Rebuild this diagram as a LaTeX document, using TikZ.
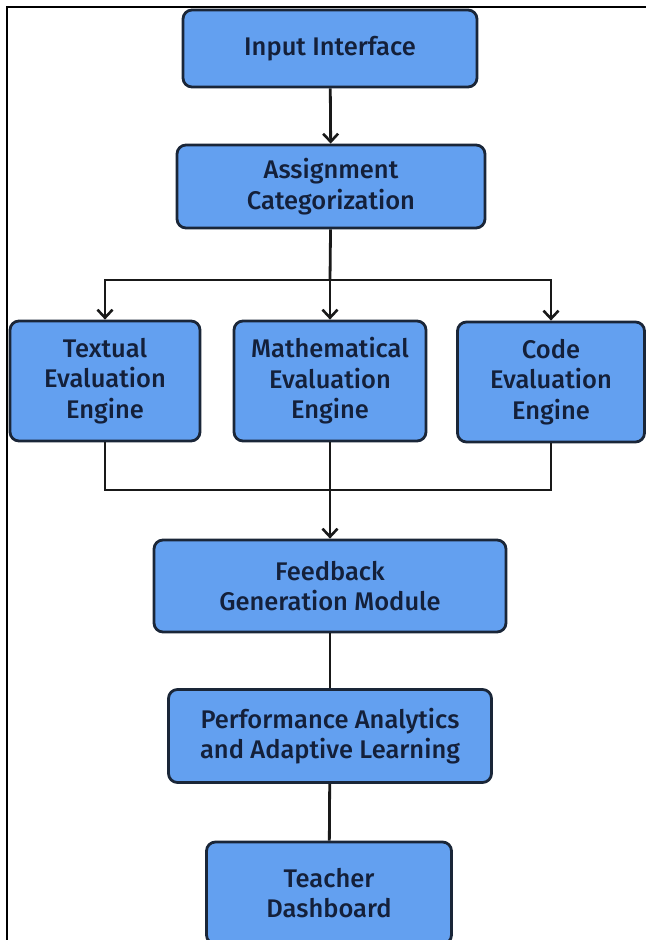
\documentclass[tikz,border=0pt]{standalone}
\usepackage{fontspec}
\setmainfont{Fira Sans}[BoldFont={Fira Sans Medium}]
\usetikzlibrary{arrows.meta}

\definecolor{boxfill}{RGB}{99,160,240}
\definecolor{boxline}{RGB}{26,38,56}
\definecolor{boxtext}{RGB}{20,32,58}

\tikzset{
    box/.style={draw=boxline, fill=boxfill, line width=2.8pt, rounded corners=9pt,
        align=center, text=boxtext, font=\bfseries\fontsize{25.5}{30.5}\selectfont,
        inner sep=0pt},
    arr/.style={-{Straight Barb[length=8pt, width=15pt, line width=2.6pt]}},
    link/.style={line width=2.8pt, black!90}
}

\begin{document}
\begin{tikzpicture}[x=1pt, y=-1pt]

    % Page
    \clip (0,0) rectangle (646,940);
    \fill[white] (0,0) rectangle (646,940);

    % Frame
    \draw[line width=2pt] (7,940) -- (7,7) -- (646,7);

    % Boxes
    \node[box, minimum width=294pt, minimum height=77pt] (input) at (330,48.5) {Input Interface};
    \node[box, minimum width=308pt, minimum height=83pt] (assign) at (331,186.5) {Assignment\\Categorization};

    \node[box, minimum width=190pt, minimum height=120pt] (textual) at (105,381) {Textual\\Evaluation\\Engine};
    \node[box, minimum width=192pt, minimum height=120pt] (math) at (330,381) {Mathematical\\Evaluation\\Engine};
    \node[box, minimum width=187pt, minimum height=120pt] (code) at (551,382) {Code\\Evaluation\\Engine};

    \node[box, minimum width=352pt, minimum height=92pt] (feedback) at (330,586) {Feedback\\Generation Module};
    \node[box, minimum width=323pt, minimum height=93pt] (perf) at (330,736) {Performance Analytics\\and Adaptive Learning};
    \node[box, minimum width=245pt, minimum height=102pt] (teacher) at (329,893) {Teacher\\Dashboard};

    % Split and join points
    \coordinate (split) at (330,280);
    \coordinate (join) at (330,490);

    % Connectors
    \draw[link, arr] (input) -- (assign);
    \draw[link] (assign) -- (split);
    \draw[link, arr] (split) -| (textual.north);
    \draw[link, arr] (split) -- (math.north);
    \draw[link, arr] (split) -| (code.north);

    \draw[link] (textual.south) |- (join);
    \draw[link] (code.south) |- (join);
    \draw[link, arr] (math.south) -- (feedback.north);

    \draw[link] (feedback) -- (perf);
    \draw[link] (perf) -- (teacher);

\end{tikzpicture}
\end{document}
